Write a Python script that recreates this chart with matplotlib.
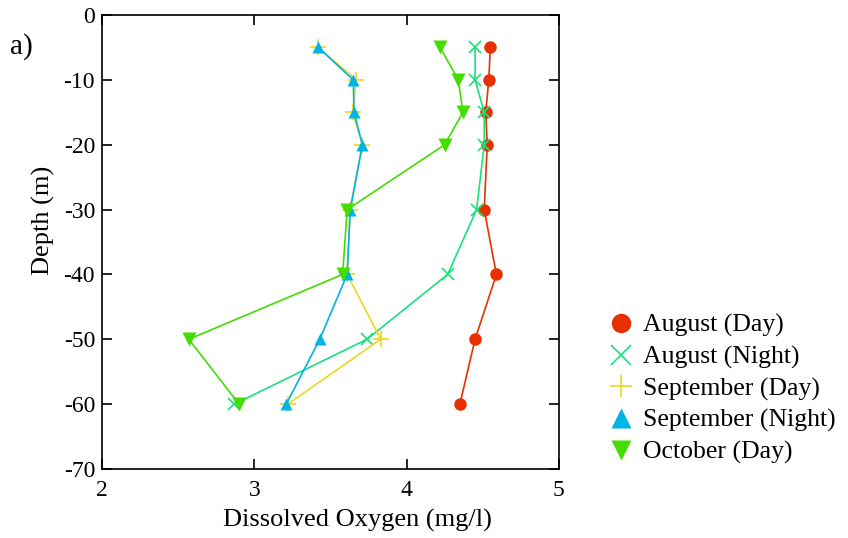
import matplotlib
matplotlib.use('Agg')
import matplotlib.pyplot as plt
from matplotlib.lines import Line2D

plt.rcParams['font.family'] = ['Liberation Serif', 'DejaVu Serif']
plt.rcParams['axes.unicode_minus'] = False

# ── Data ──────────────────────────────────────────────────────────────────────
depth = [-5, -10, -15, -20, -30, -40, -50, -60]

aug_day     = [4.55, 4.54, 4.52, 4.53, 4.51, 4.59, 4.45, 4.35]
aug_night   = [4.45, 4.45, 4.51, 4.51, 4.46, 4.27, 3.74, 2.87]
sep_day     = [3.42, 3.67, 3.645, 3.71, 3.63, 3.61, 3.83, 3.22]
sep_night   = [3.42, 3.65, 3.655, 3.71, 3.63, 3.61, 3.43, 3.21]
oct_day     = [4.22, 4.34, 4.37, 4.25, 3.61, 3.58, 2.57, 2.90]

labels = ['August (Day)', 'August (Night)', 'September (Day)',
          'September (Night)', 'October (Day)']
x_ticks = [2, 3, 4, 5]
y_ticks = [0, -10, -20, -30, -40, -50, -60, -70]

# ── Plot ──────────────────────────────────────────────────────────────────────
fig = plt.figure(figsize=(8.48, 5.38), dpi=100)
ax = fig.add_axes([0.1203, 0.1283, 0.5387, 0.8438])

# colour, marker, size in plot, size in legend, filled
styles = [
    ('#e63000', 'o', 9, 14, True),
    ('#18e27a', 'x', 9, 14, False),
    ('#ead820', '+', 11, 16, False),
    ('#00b4e6', '^', 9, 14, True),
    ('#44dd00', 'v', 10, 14, True),
]
series = [aug_day, aug_night, sep_day, sep_night, oct_day]

handles = []
for vals, lab, (col, mk, ms, lms, filled) in zip(series, labels, styles):
    kw = dict(color=col, marker=mk)
    if filled:
        kw['markeredgecolor'] = 'none'
    else:
        kw['markeredgewidth'] = 1.2
    ax.plot(vals, depth, markersize=ms, lw=1.2, **kw)
    handles.append(Line2D([], [], linestyle='none', markersize=lms,
                          label=lab, **kw))

ax.set_xlim(2, 5)
ax.set_ylim(-70, 0)
ax.set_xticks(x_ticks)
ax.set_yticks(y_ticks)
ax.tick_params(direction='in', length=7, width=1.2, labelsize=17,
               top=True, right=True)
ax.tick_params(axis='x', pad=8)
ax.tick_params(axis='y', pad=5)
for sp in ax.spines.values():
    sp.set_linewidth(1.2)

ax.set_xlabel('Dissolved Oxygen (mg/l)', fontsize=19)
ax.xaxis.set_label_coords(0.56, -0.089)
ax.set_ylabel('Depth (m)', fontsize=19)
ax.yaxis.set_label_coords(-0.103, 0.548)

fig.text(0.012, 0.9, 'a)', fontsize=21)

fig.legend(handles=handles, loc='center left',
           bbox_to_anchor=(0.705, 0.277), frameon=False, fontsize=18.5,
           handlelength=1.0, handletextpad=0.35, labelspacing=0.32,
           borderaxespad=0)

fig.savefig('out.png', dpi=100)
